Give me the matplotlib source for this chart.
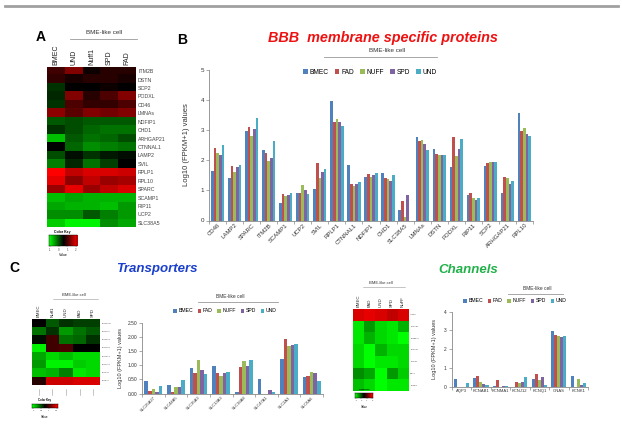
import numpy as np
import matplotlib
matplotlib.use('Agg')
import matplotlib.pyplot as plt
from matplotlib.colors import LinearSegmentedColormap
from matplotlib.lines import Line2D

plt.rcParams['font.family'] = ['Liberation Sans', 'DejaVu Sans']

W, H = 622, 429

# series shared by all bar charts
series = ['BMEC', 'FAD', 'NUFF', 'SPD', 'UND']
colors = ['#4f81bd', '#c0504d', '#9bbb59', '#8064a2', '#4bacc6']

# panel B - BBB membrane specific proteins
bbb_genes = ['CD46', 'LAMP2', 'SPARC', 'ITM2B', 'SCAMP1', 'UCP2', 'SVIL', 'RPLP1',
             'CTNNAL1', 'NDFIP1', 'CHD1', 'SLC38A5', 'LMNAs', 'DSTN', 'PODXL',
             'RIP11', 'SCP2', 'ARHGAP21', 'RPL10']
bbb_bmec = [1.63, 1.42, 2.95, 2.33, 0.58, 0.92, 1.05, 3.95, 1.85, 1.45, 1.58, 0.35, 2.77, 2.37, 1.77, 0.83, 1.80, 0.90, 3.55]
bbb_fad = [2.40, 1.80, 3.10, 2.22, 0.87, 0.91, 1.90, 3.27, 1.20, 1.53, 1.40, 0.63, 2.62, 2.20, 2.75, 0.90, 1.92, 1.45, 2.97]
bbb_nuff = [2.25, 1.62, 2.80, 1.96, 0.82, 1.17, 1.42, 3.35, 1.15, 1.45, 1.38, 0.10, 2.65, 2.17, 2.12, 0.75, 1.95, 1.40, 3.07]
bbb_spd = [2.18, 1.76, 3.03, 2.07, 0.83, 1.02, 1.62, 3.25, 1.22, 1.50, 1.32, 0.84, 2.53, 2.18, 2.38, 0.68, 1.93, 1.22, 2.88]
bbb_und = [2.50, 1.84, 3.40, 2.63, 0.92, 0.88, 1.72, 3.12, 1.26, 1.57, 1.52, 0.00, 2.32, 2.17, 2.70, 0.74, 1.95, 1.30, 2.80]

# panel C - transporters
tr_genes = ['SLC25A27', 'SLC44A5', 'SLC35A3', 'SLC13A3', 'SLC16A8', 'SLC47A1', 'SLC2A3', 'SLC6A6']
tr_bmec = [0.44, 0.30, 0.91, 0.98, 0.04, 0.50, 1.23, 0.59]
tr_fad = [0.10, 0.06, 0.73, 0.74, 0.95, 0.00, 1.91, 0.62]
tr_nuff = [0.17, 0.24, 1.20, 0.63, 1.15, 0.00, 1.68, 0.77]
tr_spd = [0.06, 0.22, 0.83, 0.73, 0.97, 0.12, 1.73, 0.73]
tr_und = [0.26, 0.49, 0.68, 0.76, 1.19, 0.06, 1.75, 0.44]

# panel C - channels
ch_genes = ['AQP3', 'KCNAB1', 'KCNMA1', 'KCNJ12', 'KCNQ1', 'GNAS', 'KCNK1']
ch_bmec = [0.40, 0.47, 0.02, 0.00, 0.41, 2.97, 0.58]
ch_fad = [0.00, 0.57, 0.36, 0.25, 0.68, 2.76, 0.00]
ch_nuff = [0.00, 0.27, 0.00, 0.20, 0.35, 2.72, 0.41]
ch_spd = [0.00, 0.12, 0.06, 0.23, 0.53, 2.66, 0.09]
ch_und = [0.22, 0.07, 0.03, 0.52, 0.10, 2.72, 0.21]

# heatmap A
hmA_rows = ['ITM2B', 'DSTN', 'SCP2', 'PODXL', 'CD46', 'LMNAs', 'NDFIP1', 'CHD1', 'ARHGAP21',
            'CTNNAL1', 'LAMP2', 'SVIL', 'RPLP1', 'RPL10', 'SPARC', 'SCAMP1', 'RIP11', 'UCP2', 'SLC38A5']
hmA_cols = ['BMEC', 'UND', 'Nuff1', 'SPD', 'FAD']
hmA_vals = [
    [0.25, 0.50, 0.05, 0.15, 0.15],
    [0.20, 0.10, 0.15, 0.15, 0.10],
    [-0.20, 0.00, 0.00, 0.05, 0.00],
    [-0.15, 0.50, 0.15, 0.30, 0.50],
    [-0.20, 0.30, 0.20, 0.20, 0.30],
    [0.55, 0.35, 0.50, 0.45, 0.50],
    [-0.35, -0.30, -0.35, -0.35, -0.35],
    [-0.20, -0.30, -0.40, -0.45, -0.45],
    [-0.75, -0.35, -0.45, -0.40, -0.30],
    [0.00, -0.40, -0.55, -0.50, -0.45],
    [-0.30, -0.05, -0.20, -0.10, -0.05],
    [-0.50, -0.15, -0.45, -0.25, 0.00],
    [1.00, 0.75, 0.85, 0.85, 0.80],
    [0.90, 0.55, 0.75, 0.60, 0.65],
    [0.60, 0.90, 0.60, 0.75, 0.85],
    [-0.75, -0.65, -0.70, -0.70, -0.70],
    [-0.65, -0.70, -0.70, -0.75, -0.60],
    [-0.55, -0.55, -0.35, -0.50, -0.60],
    [-0.80, -0.95, -0.95, -0.55, -0.65],
]

# heatmap transporters
hmT_cols = ['BMEC', 'Nuff1', 'UND', 'FAD', 'SPD']
hmT_vals = [
    [0.00, -0.35, -0.20, -0.25, -0.25],
    [-0.45, -0.20, -0.60, -0.45, -0.35],
    [-0.05, 0.25, -0.45, -0.40, -0.20],
    [-0.95, 0.25, 0.30, 0.00, 0.00],
    [-0.65, -0.85, -0.75, -0.85, -0.85],
    [-0.60, -0.95, -0.95, -0.80, -0.85],
    [-0.75, -0.70, -0.50, -0.90, -0.85],
    [0.15, 0.80, 0.80, 0.85, 0.85],
]

# heatmap channels
hmC_cols = ['BMEC', 'FAD', 'UND', 'SPD', 'NuFF']
hmC_vals = [
    [0.85, 0.90, 0.85, 0.75, 0.85],
    [-0.90, -0.60, -0.85, -0.90, -0.70],
    [-0.90, -0.70, -0.85, -0.90, -1.00],
    [-0.85, -1.00, -0.70, -0.85, -0.85],
    [-0.85, -1.00, -0.90, -0.90, -0.85],
    [-0.55, -0.65, -1.00, -0.60, -0.80],
    [-0.75, -0.85, -1.00, -0.90, -0.90],
]

gmap = LinearSegmentedColormap.from_list('grn', ['#00ff00', '#000000', '#ff0000'])
axis_grey = '#888888'


def fxy(x, y):
    return x / W, 1 - y / H


def px_axes(l, t, r, b):
    return fig.add_axes([l / W, 1 - b / H, (r - l) / W, (b - t) / H])


def ftext(x, y, s, **kw):
    fig.text(x / W, 1 - y / H, s, **kw)


def fline(x1, x2, y, color='#999999', lw=0.6):
    fig.add_artist(Line2D([x1 / W, x2 / W], [1 - y / H, 1 - y / H], color=color, lw=lw))


def bar_panel(ax, cats, vals, ymax, yticks, fmt, fs_tick, fs_x, rot):
    n = len(series)
    w = 0.78 / n
    x = np.arange(len(cats))
    for i in range(n):
        ax.bar(x + (i - (n - 1) / 2) * w, vals[i], w, color=colors[i], label=series[i], linewidth=0)
    ax.set_xlim(-0.5, len(cats) - 0.5)
    ax.set_ylim(0, ymax)
    ax.set_yticks(yticks)
    ax.set_yticklabels([fmt % v for v in yticks], fontsize=fs_tick, color='#333333')
    ax.set_xticks(x)
    if rot:
        ax.set_xticklabels(cats, rotation=45, ha='right', rotation_mode='anchor', fontsize=fs_x, color='#333333')
    else:
        ax.set_xticklabels(cats, fontsize=fs_x, color='#333333')
    ax.set_xticks(np.arange(-0.5, len(cats), 1.0), minor=True)
    ax.tick_params(axis='x', which='major', length=0, pad=1.5)
    ax.tick_params(axis='x', which='minor', length=2, width=0.5, color=axis_grey)
    ax.tick_params(axis='y', length=2, width=0.5, color=axis_grey, pad=1.5)
    for s in ['top', 'right']:
        ax.spines[s].set_visible(False)
    for s in ['left', 'bottom']:
        ax.spines[s].set_color(axis_grey)
        ax.spines[s].set_linewidth(0.6)


def bar_legend(ax, cx, cy, fs):
    ax.legend(loc='center', bbox_to_anchor=fxy(cx, cy), bbox_transform=fig.transFigure,
              ncol=5, frameon=False, fontsize=fs, handlelength=0.7, handleheight=0.7,
              columnspacing=0.9, handletextpad=0.3, borderpad=0)


def heatmap(l, t, r, b, vals, cols, rows, fs_col, fs_row):
    ax = px_axes(l, t, r, b)
    ax.imshow(np.array(vals), cmap=gmap, vmin=-1, vmax=1, aspect='auto', interpolation='nearest')
    ax.set_xticks(np.arange(len(cols)))
    ax.set_xticklabels(cols, rotation=90, fontsize=fs_col, color='#222222')
    ax.xaxis.tick_top()
    ax.set_yticks(np.arange(len(rows)))
    ax.set_yticklabels(rows, fontsize=fs_row, color='#444444')
    ax.yaxis.tick_right()
    ax.tick_params(length=0, pad=1.5)
    for s in ax.spines.values():
        s.set_visible(False)
    return ax


def color_key(l, t, r, b, ticks, fs):
    ax = px_axes(l, t, r, b)
    ax.imshow(np.linspace(-1, 1, 64)[None, :], cmap=gmap, vmin=-1, vmax=1, aspect='auto',
              extent=[0, 1, 0, 1])
    ax.set_yticks([])
    ax.set_xticks(np.linspace(0.05, 0.95, len(ticks)))
    ax.set_xticklabels(ticks, fontsize=fs, color='#444444')
    ax.tick_params(axis='x', length=1, width=0.3, pad=0.5, color='#444444')
    for s in ax.spines.values():
        s.set_linewidth(0.3)
    return ax


fig = plt.figure(figsize=(W / 100, H / 100), dpi=100)

# top rule
fline(5, 618, 6, color='#a0a0a0', lw=2)

# ---------- panel A ----------
ftext(41, 37, 'A', fontsize=10, fontweight='bold', ha='center', va='center')
ftext(104, 33, 'BME-like cell', fontsize=4.5, ha='center', va='center', color='#333333')
fline(70, 137, 39)
heatmap(47, 67, 136, 227, hmA_vals, hmA_cols, hmA_rows, 5, 3.8)
ftext(62, 232, 'Color Key', fontsize=2.5, ha='center', va='center', fontweight='bold')
color_key(49, 235, 77, 246, ['-1', '0', '1', '2'], 2)
ftext(63, 255, 'Value', fontsize=2.5, ha='center', va='center')

# ---------- panel B ----------
ftext(182, 40, 'B', fontsize=10, fontweight='bold', ha='center', va='center')
ftext(383, 38, 'BBB  membrane specific proteins', fontsize=10.4, fontweight='bold',
      fontstyle='italic', color='#ee1111', ha='center', va='center')
ftext(387, 51, 'BME-like cell', fontsize=4.5, ha='center', va='center', color='#333333')
fline(324, 437, 57)
axB = px_axes(209, 69.5, 533, 220.5)
bar_panel(axB, bbb_genes, [bbb_bmec, bbb_fad, bbb_nuff, bbb_spd, bbb_und],
          5, [0, 1, 2, 3, 4, 5], '%d', 4.5, 4.3, True)
bar_legend(axB, 370, 72, 4.8)
axB.set_ylabel('Log10 (FPKM+1) values', fontsize=5.5, color='#333333', labelpad=8)

# ---------- panel C ----------
ftext(14, 268, 'C', fontsize=10, fontweight='bold', ha='center', va='center')
ftext(157, 269, 'Transporters', fontsize=9.5, fontweight='bold', fontstyle='italic',
      color='#1a3fcc', ha='center', va='center')
ftext(468, 270, 'Channels', fontsize=9.5, fontweight='bold', fontstyle='italic',
      color='#22b04a', ha='center', va='center')

# transporter heatmap
ftext(74, 295, 'BME-like cell', fontsize=3, ha='center', va='center', color='#333333')
fline(53, 98, 299, lw=0.4)
axT = heatmap(32, 319, 100, 385, hmT_vals, hmT_cols, tr_genes, 3.2, 1.5)
ftext(45, 400, 'Color Key', fontsize=2, ha='center', va='center', fontweight='bold')
color_key(32, 404, 58, 408, ['0', '0.5', '1', '1.5'], 1.6)
ftext(45, 417, 'Value', fontsize=2.2, ha='center', va='center')
for i in range(len(hmT_cols)):
    xc = 32 + (i + 0.5) * (68 / len(hmT_cols))
    fig.add_artist(Line2D([xc / W, xc / W], [1 - 389 / H, 1 - 395 / H], color='#999999', lw=0.4))

# transporter bars
ftext(230, 297, 'BME-like cell', fontsize=3.5, ha='center', va='center', color='#333333')
fline(198, 278, 302)
axTr = px_axes(142, 322.7, 323, 393.5)
bar_panel(axTr, tr_genes, [tr_bmec, tr_fad, tr_nuff, tr_spd, tr_und],
          2.5, [0, 0.5, 1.0, 1.5, 2.0, 2.5], '%.2f', 3.5, 3.0, True)
bar_legend(axTr, 225, 311, 3.7)
axTr.set_ylabel('Log10 (FPKM+1) values', fontsize=4, color='#333333', labelpad=3)

# channel heatmap
ftext(381, 283, 'BME-like cell', fontsize=3, ha='center', va='center', color='#333333')
fline(363, 405, 287, lw=0.4)
heatmap(352.7, 309, 408.3, 391, hmC_vals, hmC_cols, ch_genes, 3.2, 1.5)
ftext(364, 390, 'Color Key', fontsize=1.6, ha='center', va='center', fontweight='bold')
color_key(355, 393, 373, 398, ['-1', '0', '1', '2'], 1.6)
ftext(364, 407, 'Value', fontsize=2, ha='center', va='center')

# channel bars
ftext(537, 289, 'BME-like cell', fontsize=3.5, ha='center', va='center', color='#333333')
fline(508, 563, 294)
axCh = px_axes(451.7, 311.7, 588, 386.7)
bar_panel(axCh, ch_genes, [ch_bmec, ch_fad, ch_nuff, ch_spd, ch_und],
          4, [0, 1, 2, 3, 4], '%d', 3.5, 3.0, False)
bar_legend(axCh, 515, 301, 3.7)
axCh.set_ylabel('Log10 (FPKM+1) values', fontsize=4, color='#333333', labelpad=5)

fig.savefig('out.png', dpi=100)
